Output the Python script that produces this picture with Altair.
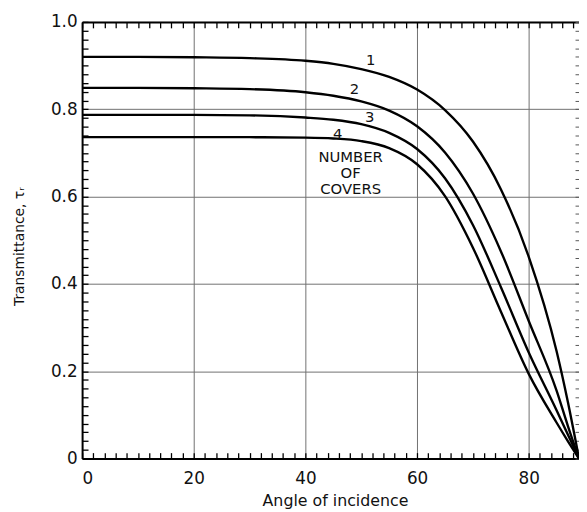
import altair as alt
import pandas as pd

# ---- data ----
angles = [0, 10, 20, 30, 40, 45, 50, 55, 60, 65, 70, 75, 80, 85, 87, 89]
cover1 = [0.920, 0.920, 0.919, 0.917, 0.911, 0.904, 0.892, 0.874, 0.845, 0.798, 0.726, 0.617, 0.462, 0.245, 0.130, 0.0]
cover2 = [0.849, 0.849, 0.848, 0.846, 0.839, 0.831, 0.818, 0.797, 0.761, 0.701, 0.607, 0.475, 0.315, 0.155, 0.075, 0.0]
cover3 = [0.787, 0.787, 0.787, 0.786, 0.781, 0.776, 0.766, 0.746, 0.709, 0.642, 0.535, 0.393, 0.243, 0.110, 0.055, 0.0]
cover4 = [0.736, 0.736, 0.736, 0.736, 0.735, 0.733, 0.727, 0.711, 0.674, 0.601, 0.483, 0.337, 0.194, 0.082, 0.040, 0.0]
cover_names = ["1", "2", "3", "4"]

label_text = ["1", "2", "3", "4", "NUMBER", "OF", "COVERS"]
label_angle = [51.7, 48.8, 51.5, 45.8, 48.1, 48.1, 48.1]
label_tau = [0.912, 0.846, 0.781, 0.744, 0.690, 0.654, 0.618]

x_major = [0, 20, 40, 60, 80]
y_major = [0, 0.2, 0.4, 0.6, 0.8, 1.0]
x_minor = list(range(0, 89, 2))
y_minor = [i / 50 for i in range(51)]

rows = []
for name, vals in zip(cover_names, [cover1, cover2, cover3, cover4]):
    for a, v in zip(angles, vals):
        rows.append({"angle": a, "tau": v, "covers": name})
df = pd.DataFrame(rows)
labels_df = pd.DataFrame({"text": label_text, "angle": label_angle, "tau": label_tau})

FONT = "DejaVu Sans"
INK = "#111111"
xscale = alt.Scale(domain=[0, 89], nice=False, zero=False)
yscale = alt.Scale(domain=[0, 1], nice=False)

base = alt.Chart(df)

# main layer: curves, labels, grid, bottom/left domain
lines = base.mark_line(color="black", strokeWidth=2.4, interpolate="monotone").encode(
    x=alt.X("angle:Q", scale=xscale, axis=alt.Axis(
        orient="bottom", values=x_major, format="d", grid=True, gridColor="#707070", gridWidth=1,
        domain=True, domainColor="black", domainWidth=2, ticks=False, tickSize=0,
        labelPadding=12, labelFont=FONT, labelFontSize=17, labelColor=INK,
        title="Angle of incidence", titleFont=FONT, titleFontSize=16, titleFontWeight="normal",
        titleColor=INK, titleX=256, titleY=35, titleBaseline="top", titleAlign="center")),
    y=alt.Y("tau:Q", scale=yscale, axis=alt.Axis(
        orient="left", values=y_major, labelExpr="datum.value == 0 ? '0' : format(datum.value, '.1f')",
        grid=True, gridColor="#707070", gridWidth=1,
        domain=True, domainColor="black", domainWidth=2, ticks=False, tickSize=0,
        labelPadding=5, labelFont=FONT, labelFontSize=17, labelColor=INK,
        title="Transmittance, τᵣ", titleFont=FONT, titleFontSize=14, titleFontWeight="normal",
        titleColor=INK, titleX=-63, titleY=227, titleAngle=270, titleBaseline="middle", titleAlign="center")),
    detail="covers:N",
)

# inward minor ticks: bottom and left
ticks_bl = base.mark_line(opacity=0).encode(
    x=alt.X("angle:Q", scale=xscale, axis=alt.Axis(
        orient="bottom", offset=-6, values=x_minor, ticks=True, tickSize=6, tickColor="black",
        tickWidth=1.3, labels=False, domain=False, grid=False, title=None)),
    y=alt.Y("tau:Q", scale=yscale, axis=alt.Axis(
        orient="left", offset=-6, values=y_minor, ticks=True, tickSize=6, tickColor="black",
        tickWidth=1.3, labels=False, domain=False, grid=False, title=None)),
    detail="covers:N",
)

# inward minor ticks: top and right
ticks_tr = base.mark_line(opacity=0).encode(
    x=alt.X("angle:Q", scale=xscale, axis=alt.Axis(
        orient="top", offset=-6, values=x_minor, ticks=True, tickSize=6, tickColor="black",
        tickWidth=1.3, labels=False, domain=False, grid=False, title=None)),
    y=alt.Y("tau:Q", scale=yscale, axis=alt.Axis(
        orient="right", offset=-4, values=y_minor, ticks=True, tickSize=4, tickColor="#555555",
        tickWidth=1, labels=False, domain=False, grid=False, title=None)),
    detail="covers:N",
)

# top frame line
top_frame = base.mark_line(opacity=0).encode(
    x=alt.X("angle:Q", scale=xscale, axis=alt.Axis(
        orient="top", ticks=False, tickSize=0, labels=False, domain=True, domainColor="black",
        domainWidth=2, grid=False, title=None)),
    y=alt.Y("tau:Q", scale=yscale, axis=None),
    detail="covers:N",
)

texts = alt.Chart(labels_df).mark_text(
    font=FONT, fontSize=15, color=INK, align="center", baseline="middle"
).encode(
    x=alt.X("angle:Q", scale=xscale, axis=None),
    y=alt.Y("tau:Q", scale=yscale, axis=None),
    text="text:N",
)

chart = alt.layer(lines, ticks_bl, ticks_tr, top_frame, texts).resolve_axis(
    x="independent", y="independent"
).properties(
    width=503, height=442,
    padding={"left": 75, "top": 11, "right": 0, "bottom": 50},
    autosize=alt.AutoSizeParams(type="none"),
    background="white",
).configure_view(stroke=None)

chart.save("out.html", embed_options={"renderer": "svg", "actions": False})
